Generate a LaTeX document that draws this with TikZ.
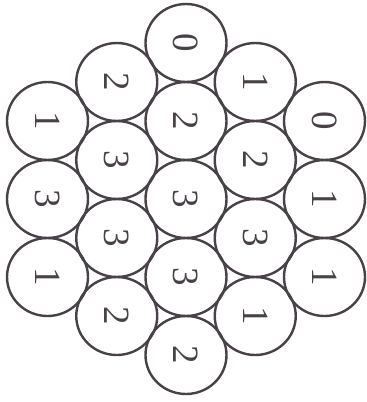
\documentclass[tikz,border=0pt]{standalone}
\usepackage{fontspec}
\setmainfont{Liberation Serif}
\usetikzlibrary{shapes.geometric}
\definecolor{ink}{RGB}{72,66,72}
\tikzset{
  disc/.style={ellipse,draw=ink,text=ink,line width=1.2pt,inner sep=0pt,
    minimum width=39pt,minimum height=40.5pt,rotate=-90,
    font=\fontsize{18.5}{18.5}\selectfont}
}
\begin{document}
\begin{tikzpicture}[x=.5pt,y=-.5pt]
\useasboundingbox (0,0) rectangle (366,402);
% columns of the hexagonal pack, left to right
\foreach \n/\y/\d in {1/121/1,2/199/3,3/277/1}
  \node[disc] (a\n) at (47.5,\y) {\d};
\foreach \n/\y/\d in {1/82/2,2/160/3,3/238/3,4/316/2}
  \node[disc] (b\n) at (116.75,\y) {\d};
\foreach \n/\y/\d in {1/43/0,2/121/2,3/199/3,4/277/3,5/355/2}
  \node[disc] (c\n) at (186,\y) {\d};
\foreach \n/\y/\d in {1/82/1,2/160/2,3/238/3,4/316/1}
  \node[disc] (d\n) at (255.25,\y) {\d};
\foreach \n/\y/\d in {1/121/0,2/199/1,3/277/1}
  \node[disc] (e\n) at (324.5,\y) {\d};
\end{tikzpicture}
\end{document}
